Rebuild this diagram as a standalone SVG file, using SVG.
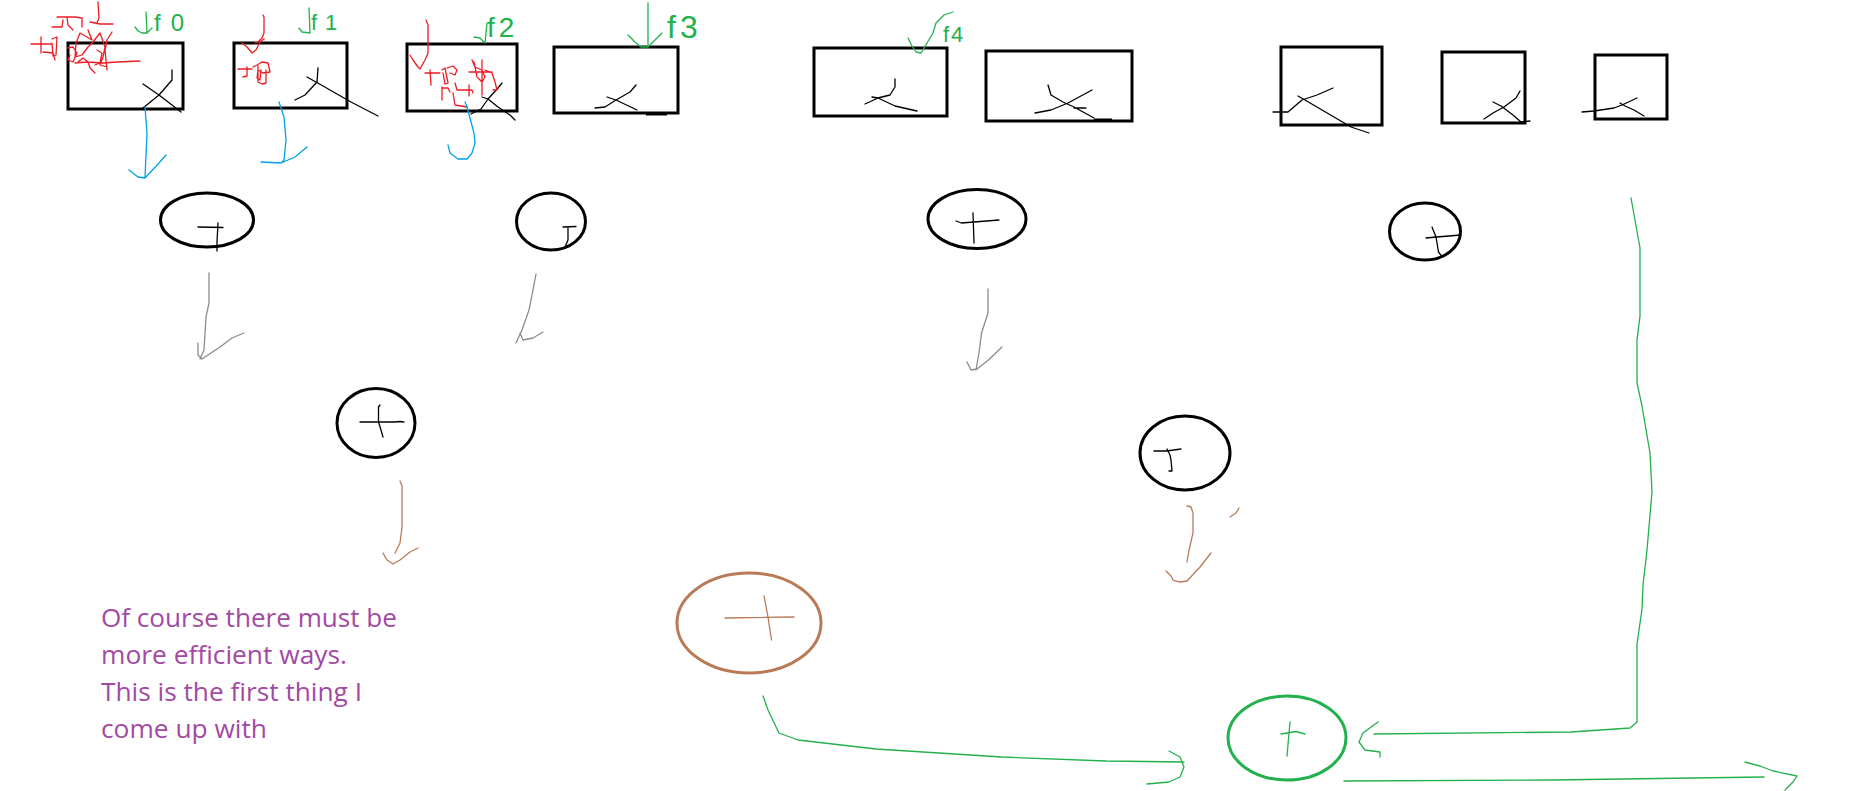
<svg xmlns="http://www.w3.org/2000/svg" width="1856" height="791" viewBox="0 0 1856 791">
<style>
.box{fill:none;stroke:#000;stroke-width:3}
.ell{fill:none;stroke:#000;stroke-width:3}
.thin{fill:none;stroke:#000;stroke-width:1.3;stroke-linejoin:round;stroke-linecap:round}
.red{fill:none;stroke:#ED1C24;stroke-width:1.3;stroke-linejoin:round;stroke-linecap:round}
.grn{fill:none;stroke:#22B14C;stroke-width:1.3;stroke-linejoin:round;stroke-linecap:round}
.blu{fill:none;stroke:#00A2E8;stroke-width:1.3;stroke-linejoin:round;stroke-linecap:round}
.gry{fill:none;stroke:#8C8C8C;stroke-width:1.3;stroke-linejoin:round;stroke-linecap:round}
.brn{fill:none;stroke:#B97A57;stroke-width:1.3;stroke-linejoin:round;stroke-linecap:round}
.lbl{font-family:"Liberation Sans",Arial,sans-serif;fill:#22B14C}
.note{font-family:"Open Sans","Liberation Sans",sans-serif;font-size:25px;fill:#A349A4}
</style>
<rect width="1856" height="791" fill="#fff"/>

<g id="box1">
<rect class="box" x="68" y="43" width="115" height="66"/>
<path class="thin" d="M172,70 L172,80 L159,95 L143,108 M143,84 L159,95 L181,112"/>
</g>
<g id="box2">
<rect class="box" x="234" y="43" width="113" height="65"/>
<path class="thin" d="M318,68 L317,82 L305,95 L295,100 M307,77 L316,82 L351,102 L378,116"/>
</g>
<g id="box3">
<rect class="box" x="407" y="44" width="110" height="67"/>
<path class="thin" d="M502,83 L498,88 L488,99 L481,109 L471,114 M482,97 L488,99 L498,107 L510,115 L515,120"/>
</g>
<g id="box4">
<rect class="box" x="554" y="47" width="124" height="66"/>
<path class="thin" d="M636,85 L630,92 L616,100 L605,107 L595,108 M607,97 L616,100 L637,110"/>
<path d="M646,114 L667,114" stroke="#000" stroke-width="3"/>
</g>
<g id="box5">
<rect class="box" x="814" y="48" width="133" height="68"/>
<path class="thin" d="M895,79 L895,87 L890,95 L878,98 L865,104 M872,97 L878,98 L895,106 L917,111"/>
</g>
<g id="box6">
<rect class="box" x="986" y="51" width="146" height="70"/>
<path class="thin" d="M1048,85 L1051,95 L1063,102 L1074,107 L1094,118 M1035,113 L1051,110 L1068,103 L1092,90 M1074,108 L1086,108"/>
<path d="M1094,120 L1112,120" stroke="#000" stroke-width="3"/>
</g>
<g id="box7">
<rect class="box" x="1281" y="47" width="101" height="78"/>
<path class="thin" d="M1273,112 L1288,112 L1302,100 L1317,95 L1333,88 M1298,96 L1305,100 L1334,117 L1351,127 L1369,133"/>
</g>
<g id="box8">
<rect class="box" x="1442" y="52" width="83" height="71"/>
<path class="thin" d="M1520,91 L1516,98 L1504,107 L1493,113 L1484,119 M1493,102 L1501,106 L1513,115 L1521,122 L1530,121"/>
</g>
<g id="box9">
<rect class="box" x="1595" y="55" width="72" height="64"/>
<path class="thin" d="M1582,112 L1594,111 L1614,108 L1622,105 L1637,98 M1620,103 L1625,106 L1634,110 L1644,116"/>
</g>

<g id="sum1">
<ellipse class="ell" cx="207" cy="220" rx="46.5" ry="27"/>
<path class="thin" d="M198,227 L223,227.5 M218,223 L217,242 L217,251"/>
</g>
<g id="sum2">
<ellipse class="ell" cx="551" cy="221.5" rx="34.5" ry="28.5"/>
<path class="thin" d="M563,227 L576,226.5 M568,227 L568,240 L565,247"/>
</g>
<g id="sum3">
<ellipse class="ell" cx="977" cy="219" rx="49" ry="29.5"/>
<path class="thin" d="M973,213 L974,243 M956,221 L961.5,223 L999,220"/>
</g>
<g id="sum4">
<ellipse class="ell" cx="1425" cy="231.5" rx="35.5" ry="28.5"/>
<path class="thin" d="M1432,227 L1436,237 L1438.5,252 L1441.5,256 M1426,238 L1436.5,237 L1461,235"/>
</g>
<g id="sum5">
<ellipse class="ell" cx="376" cy="423" rx="39" ry="34.5"/>
<path class="thin" d="M360,422 L378,422 L395,422 L400,421.5 L404,422 M380,405 L378.5,407 L378.5,422 L381,430 L383,437"/>
</g>
<g id="sum6">
<ellipse class="ell" cx="1185" cy="453" rx="45" ry="37"/>
<path class="thin" d="M1154,451 L1167,451 L1181,449 M1167,449 L1170,455 L1171,460 L1172,471 L1169,471"/>
</g>
<g id="sum7">
<ellipse cx="749" cy="623" rx="72" ry="50" fill="none" stroke="#B97A57" stroke-width="3"/>
<path class="brn" d="M725,618 L794,617 M764,596 L768,617 L771.5,640"/>
</g>
<g id="sum8">
<ellipse cx="1287" cy="738" rx="59" ry="42" fill="none" stroke="#22B14C" stroke-width="3"/>
<path class="grn" d="M1290,722 L1287,756 M1281,734 L1296,731.5 L1305,734"/>
</g>

<g id="annotations">
<path class="red" d="M98,2 L99,18 L97,23 M57,17 L75,17 M67,17 L68,25 L73,30 M75,17 L82,18 L82,27 M52,27 L62,27 L63,20 M31,44 L51,44 M41,37 L41,53 M52,39 L57,37 L56,55 L53,56 L52,43 M43,52 L53,53 L55,60 M90,22 L100,24 L113,24 M88,30 L92,40 L87,37 L80,33 L76,43 L75,57 L82,55 L88,47 L93,42 L100,33 L105,47 L103,57 L100,65 L107,67 M112,32 L107,40 L105,50 L107,70 M67,48 L73,47 L77,53 L73,62 L68,60 L70,55 M75,63 L87,62 L103,63 L117,62 L140,61 M78,62 L83,58 L88,62 L90,68 L95,73 M97,50 L102,53 L100,63 L95,65"/>
<path class="red" d="M263,15 L264,17 L264,33 L262,38 L258,42 L255,43 M242,43 L247,47 L252,53 L256,50 L260,42 L264,39 M238,69 L252,69 M247,67 L247,76 L243,77 M253,67 L257,65 L262,62 L268,63 L270,72 L263,73 L258,70 L257,78 L260,80 L261,70 M258,66 L258,82 L262,84 L266,83 L266,70"/>
<path class="red" d="M426,20 L428,25 L428,53 L425,60 L420,69 L418,67 L413,60 L410,55 M425,73 L440,73 M430,70 L431,85 M442,70 L445,68 L448,83 L445,84 L443,73 M447,68 L453,66 L457,70 L455,75 L450,73 M442,88 L448,88 L450,92 M442,87 L442,100 M453,93 L455,105 L467,107 M455,83 L457,90 L472,90 L473,93 M462,90 L470,90 M469,85 L469,96 M472,60 L475,67 L482,70 L485,77 L482,82 L478,78 M469,72 L492,72 M482,60 L482,95 M474,62 L477,77 M485,70 L492,73 L495,82 L497,90 L493,90"/>
<path class="grn" d="M146,12 L147,33 M135,27 L138,31 L142,33 L147,33 L152,28"/>
<text class="lbl" x="154" y="31" font-size="24" letter-spacing="10">f0</text>
<path class="grn" d="M309,8 L310,33 M299,28 L302,32 L310,33"/>
<text class="lbl" x="311" y="30" font-size="22" letter-spacing="8">f1</text>
<path class="grn" d="M474,37 L480,38 L485,43 L487,23"/>
<text class="lbl" x="487" y="37" font-size="28" letter-spacing="4">f2</text>
<path class="grn" d="M648,3 L648,46 M628,35 L635,42 L641,47 L648,47 L655,40 L662,33"/>
<text class="lbl" x="667" y="38" font-size="32" letter-spacing="4">f3</text>
<path class="grn" d="M908,38 L912,46 L916,52 L921,53 L927,43 L933,33 L936,23 L944,15 L953,12"/>
<text class="lbl" x="943" y="42" font-size="22" letter-spacing="2">f4</text>
</g>

<g id="connectors">
<path class="blu" d="M145,107 L147,133 L145,178 M129,170 L138,177 L145,178 L159,163 L166,155"/>
<path class="blu" d="M279,102 L284,117 L286,140 L284,160 L281,163 M261,162 L281,163 L295,157 L307,147"/>
<path class="blu" d="M465,102 L467,107 L474,133 L475,143 L472,153 L467,159 L458,159 L450,153 L448,145"/>
<path class="gry" d="M209,273 L209,303 L206,317 L204,350 L200,359 M198,343 L198,355 L202,359 L208,355 L220,347 L232,338 L244,333"/>
<path class="gry" d="M536,274 L533,290 L529,310 L522,330 L516,343 M520,333 L523,340 L533,338 L543,332"/>
<path class="gry" d="M988,289 L988,313 L981.5,333 L979,353 L976,370 M967,362 L971,370 L977,369 L988.5,360 L1002,347"/>
<path class="brn" d="M400,481 L402,486 L402,527 L400,543 L395,553 M383,553 L387,560 L393,564 L400,560 L410,552 L418,548"/>
<path class="brn" d="M1187,506 L1191,507 L1193,513 L1193,533 L1189,550 L1187,562 M1166,571 L1171,576 L1173,580 L1180,582 L1187,581 L1200,567 L1211,553 M1230,517 L1236,513 L1239,508"/>
<path class="grn" d="M763,696 L768,710 L779,733 L798,740 L876,749 L1002,757 L1106,761 L1184,762 M1169,751 L1180,757 L1184,767 L1180,777 L1169,782 L1147,784"/>
<path class="grn" d="M1631,198 L1640,248 L1640,316 L1637,340 L1637,383 L1642,406 L1650,453 L1652,492 L1647,550 L1643,585 L1642,609 L1637,644 L1637,722 L1630,728 L1571,732 L1374,734 M1378,722 L1363,733 L1359,742 L1365,750 L1380,752 L1380,757"/>
<path class="grn" d="M1344,781 L1552,780 L1764,777 M1745,762 L1760,766 L1773,771 L1797,776 L1793,782 L1785,790"/>
</g>

<g id="note">
<text class="note" x="101" y="627" textLength="296" lengthAdjust="spacingAndGlyphs">Of course there must be</text>
<text class="note" x="101" y="664" textLength="246" lengthAdjust="spacingAndGlyphs">more efficient ways.</text>
<text class="note" x="101" y="701" textLength="261" lengthAdjust="spacingAndGlyphs">This is the first thing I</text>
<text class="note" x="101" y="738" textLength="166" lengthAdjust="spacingAndGlyphs">come up with</text>
</g>
</svg>
